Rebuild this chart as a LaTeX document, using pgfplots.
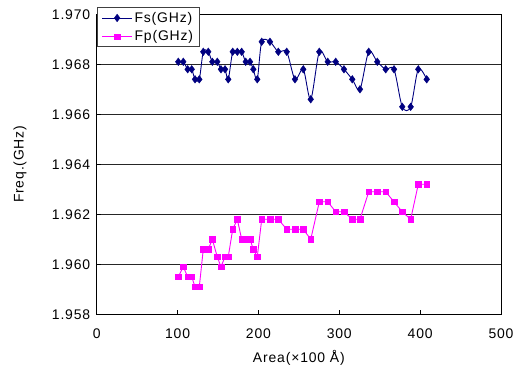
\documentclass[border=0pt]{standalone}
\usepackage{pgfplots}
\pgfplotsset{compat=1.18}
\usepackage{pgfplotstable}
\usepackage{fontspec}
\setmainfont{Liberation Sans}[LetterSpace=6]

\definecolor{fsnavy}{RGB}{0,0,128}
\definecolor{fpmag}{RGB}{255,0,255}

% Area (x100 A), series resonance Fs and parallel resonance Fp (GHz)
\pgfplotstableread{
x     fs     fp
100.9 1.9681 1.9595
107.1 1.9681 1.9599
112.5 1.9678 1.9595
117.5 1.9678 1.9595
121.6 1.9674 1.9591
126.9 1.9674 1.9591
131.8 1.9685 1.9606
138.0 1.9685 1.9606
143.0 1.9681 1.9610
149.1 1.9681 1.9603
153.7 1.9678 1.9599
158.7 1.9678 1.9603
162.7 1.9674 1.9603
168.2 1.9685 1.9614
173.9 1.9685 1.9618
179.3 1.9685 1.9610
184.3 1.9681 1.9610
189.6 1.9681 1.9610
193.7 1.9678 1.9606
198.6 1.9674 1.9603
204.1 1.9689 1.9618
214.3 1.9689 1.9618
224.6 1.9685 1.9618
235.0 1.9685 1.9614
245.2 1.9674 1.9614
255.5 1.9678 1.9614
264.7 1.9666 1.9610
275.3 1.9685 1.9625
285.7 1.9681 1.9625
295.6 1.9681 1.9621
305.8 1.9678 1.9621
316.1 1.9674 1.9618
325.6 1.9670 1.9618
336.4 1.9685 1.9629
347.0 1.9681 1.9629
357.4 1.9678 1.9629
367.7 1.9678 1.9625
377.9 1.9663 1.9621
388.3 1.9663 1.9618
397.7 1.9678 1.9632
408.1 1.9674 1.9632
}\freqdata

\begin{document}
\begin{tikzpicture}
\begin{axis}[
  name=ax,
  scale only axis,
  width=404.3bp, height=300bp,
  xmin=0, xmax=500, ymin=1.958, ymax=1.970,
  xtick={0,100,200,300,400,500},
  ytick={1.958,1.960,1.962,1.964,1.966,1.968,1.970},
  ymajorgrids,
  grid style={black!85, line width=0.9pt},
  axis line style={black, line width=1pt},
  xtick pos=bottom, ytick pos=left,
  tick align=inside,
  major tick length=4bp,
  tick style={black, line width=0.8pt},
  tick label style={font=\fontsize{14}{16}\selectfont},
  /pgf/number format/assume math mode=true,
  yticklabel style={/pgf/number format/fixed, /pgf/number format/precision=3,
    /pgf/number format/fixed zerofill, xshift=-3bp},
  xticklabel style={yshift=-11bp},
  scaled y ticks=false,
  xlabel={Area(×100 Å)},
  ylabel={Freq.(GHz)},
  label style={font=\fontsize{14}{16}\selectfont},
  xlabel style={at={(axis description cs:0.5,-0.1467)}, anchor=center},
  ylabel style={at={(axis description cs:-0.1897,0.5)}, anchor=center, rotate=0},
  legend style={at={(0,1)}, anchor=north west, xshift=0.6bp, yshift=7bp,
    draw=black!75, line width=0.8pt, fill=white,
    font=\fontsize{14}{16}\selectfont,
    inner xsep=4bp, inner ysep=2.5bp, row sep=3bp},
  legend cell align=left,
  legend image code/.code={
    \draw[mark repeat=2, mark phase=2] plot coordinates {(0bp,0bp) (15bp,0bp) (30bp,0bp)};
  },
]
\addplot[fsnavy, line width=0.9pt, smooth, tension=0.5,
  mark=diamond*, mark size=3.8bp, mark options={solid, fill=fsnavy, line width=0.4pt}]
  table[x=x, y=fs] {\freqdata};
\addlegendentry{Fs(GHz)}
\addplot[fpmag, line width=0.9pt,
  mark=square*, mark size=2.8bp, mark options={solid, fill=fpmag, line width=0.4pt}]
  table[x=x, y=fp] {\freqdata};
\addlegendentry{Fp(GHz)}
\end{axis}
\pgfresetboundingbox
\useasboundingbox ([xshift=-96.7bp, yshift=-54.7bp]ax.south west) rectangle ++(531bp,369bp);
\end{tikzpicture}
\end{document}
